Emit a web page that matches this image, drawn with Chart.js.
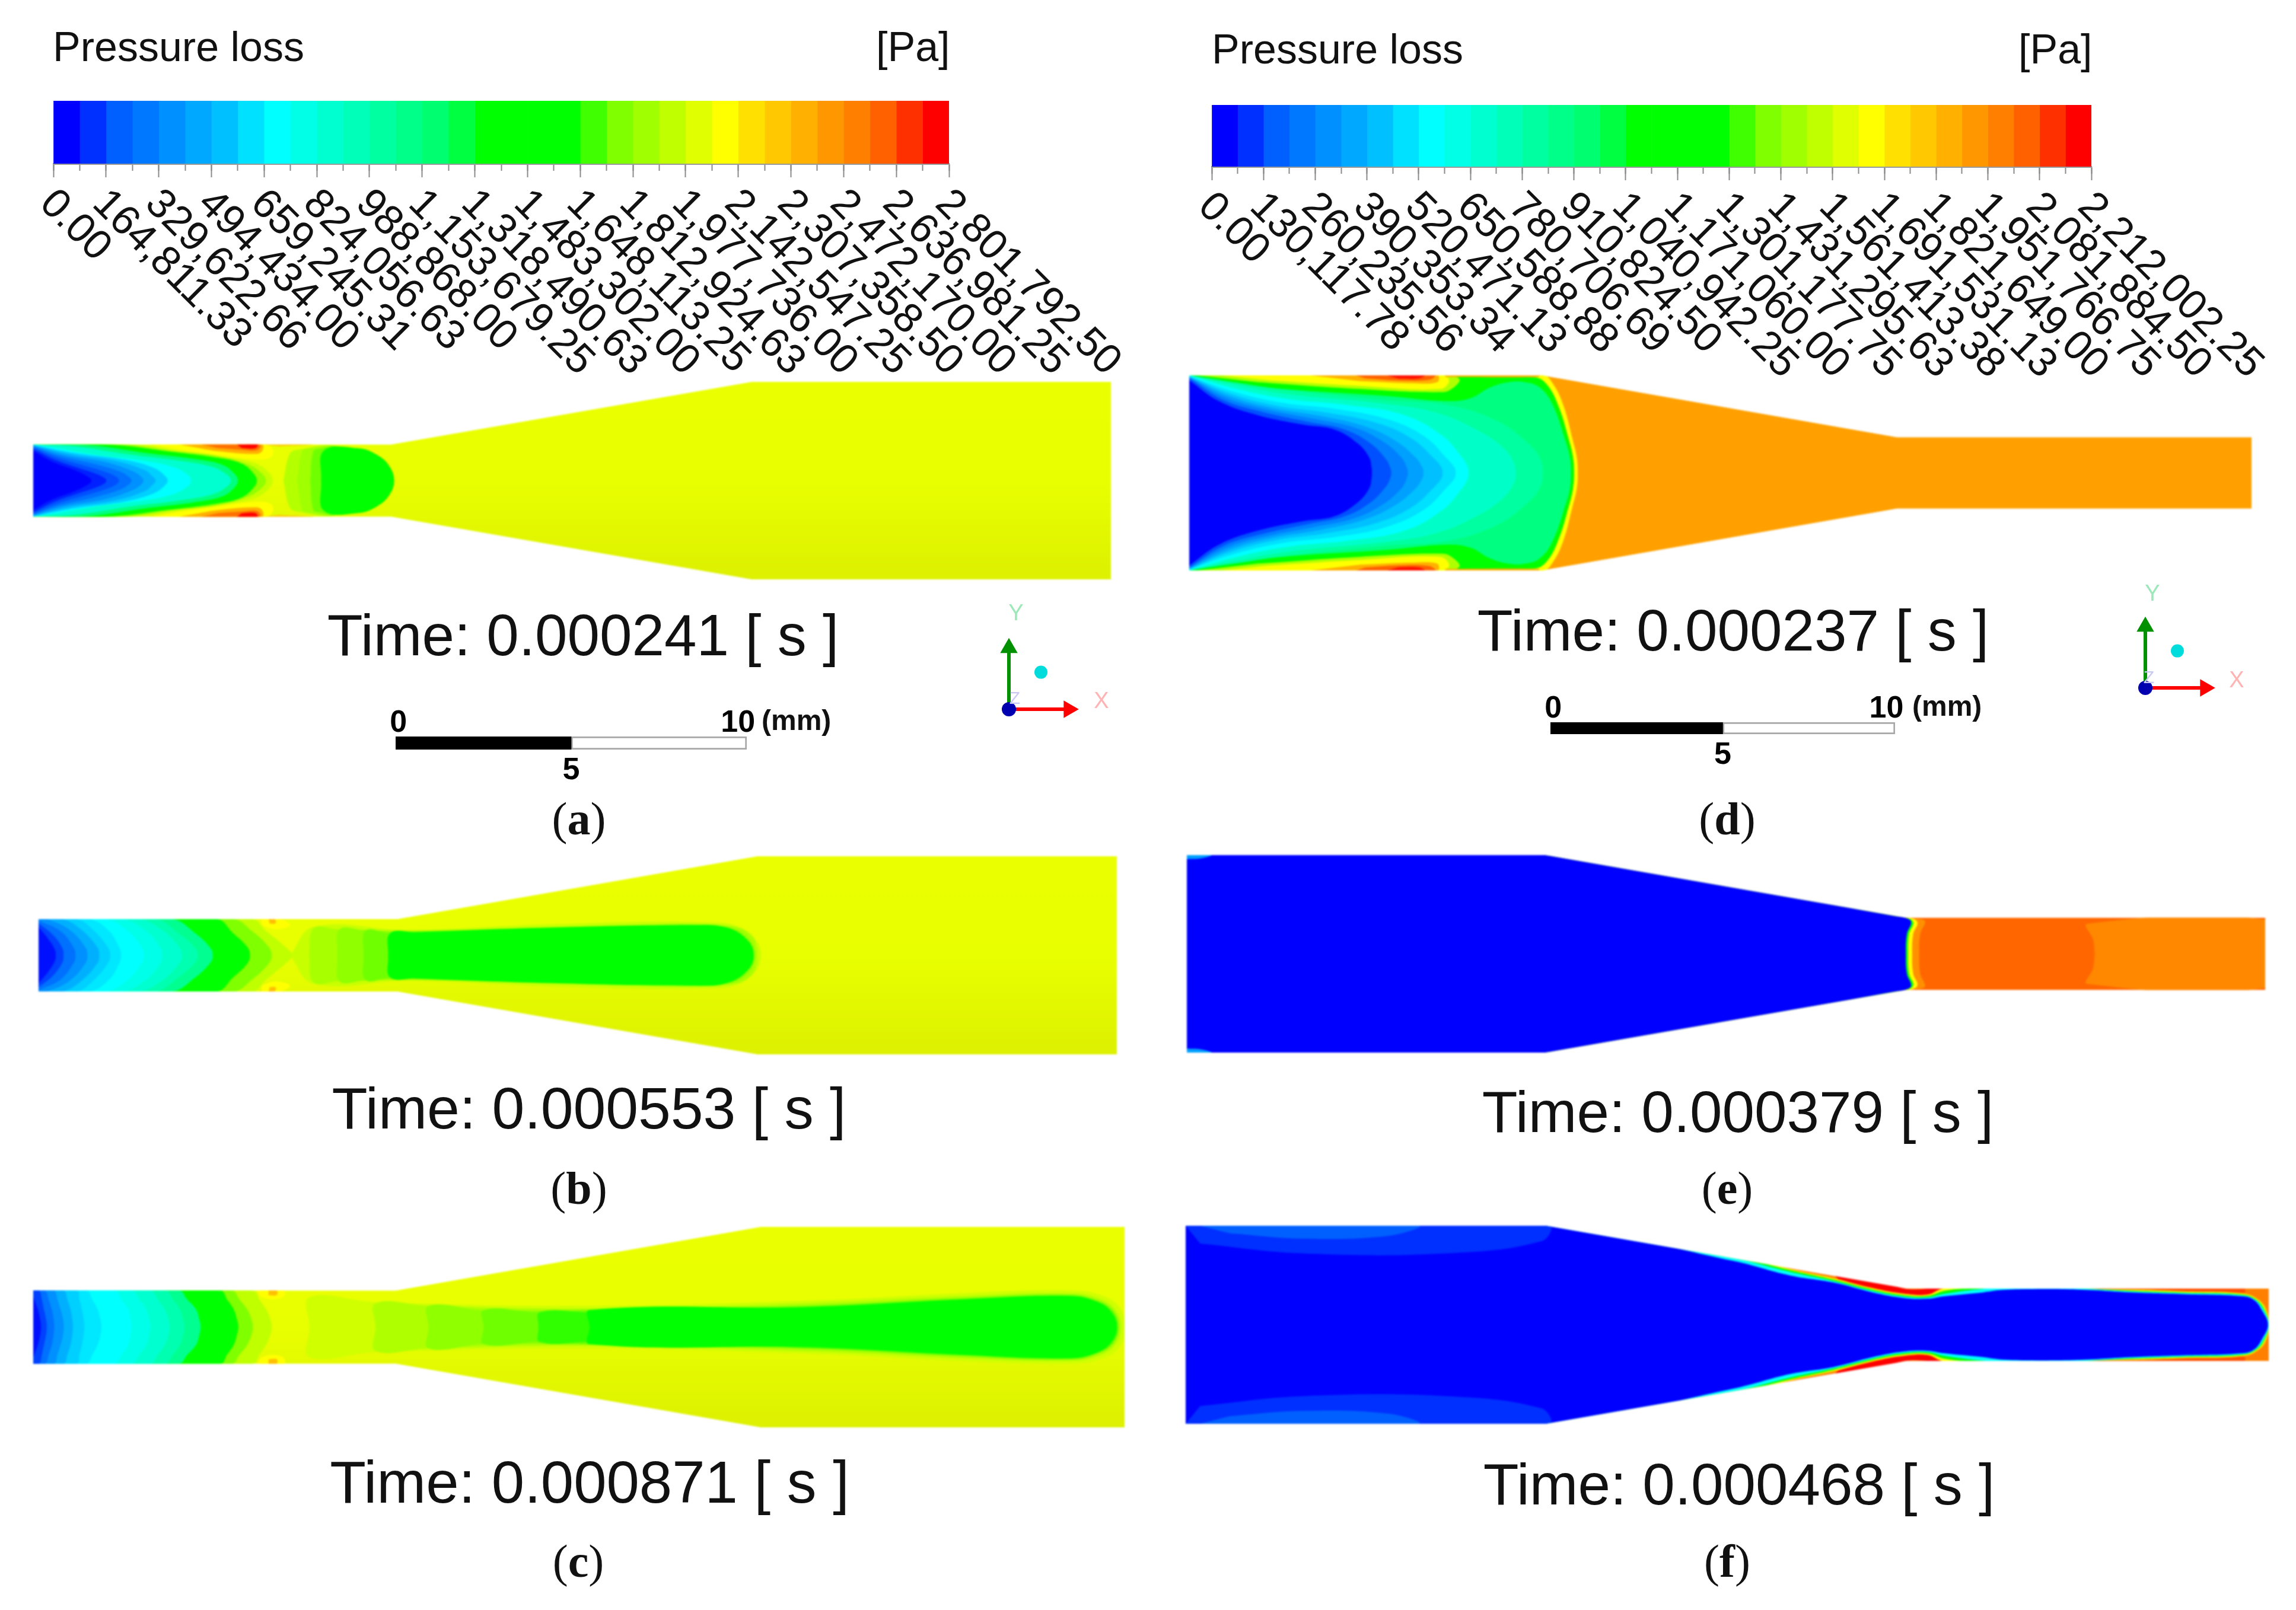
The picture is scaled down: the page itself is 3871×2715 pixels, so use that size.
<!DOCTYPE html>
<html>
<head>
<meta charset="utf-8">
<title>Pressure loss</title>
<script src="https://cdn.jsdelivr.net/npm/chart.js@4/dist/chart.umd.min.js"></script>
<style>
  html, body { margin: 0; background: #fff; }
  #page { position: relative; width: 3871px; height: 2715px; overflow: hidden; background: #fff; }
  #page canvas { position: absolute; }
  #page canvas.panel { filter: blur(1.8px); }
  .txt { position: absolute; line-height: 0; white-space: nowrap; color: #111; font-family: "Liberation Sans", Arial, sans-serif; }
</style>
</head>
<body>
<div id="page"></div>
<script>
// colour legend
const bandColors = ['#0000ff','#0030ff','#0060ff','#0078ff','#0090ff','#00a8ff','#00c0ff','#00e0ff','#00ffff','#00ffe6','#00ffd0','#00ffb8','#00ffa0','#00ff88','#00ff70','#00ff40','#00ff00','#00ff00','#00ff00','#00ff00','#40ff00','#80ff00','#a0ff00','#c0ff00','#e0ff00','#ffff00','#ffe000','#ffc800','#ffb000','#ff9800','#ff8000','#ff6000','#ff3000','#ff0000'];

const legendEdgesLeft = [0, 82405.67, 164811.33, 247217, 329622.66, 412028.33, 494434, 576839.66, 659245.31, 741651, 824056.63, 906462.3, 988868, 1071273.63, 1153679.25, 1236084.94, 1318490.63, 1400896.31, 1483302, 1565707.63, 1648113.25, 1730518.94, 1812924.63, 1895330.31, 1977736, 2060141.63, 2142547.25, 2224952.88, 2307358.5, 2389764.25, 2472170, 2554575.63, 2636981.25, 2719386.88, 2801792.5];
const legendEdgesRight = [0, 65058.89, 130117.78, 195176.67, 260235.56, 325294.45, 390353.34, 455412.23, 520471.13, 585530, 650588.88, 715647.78, 780706.69, 845765.59, 910824.5, 975883.38, 1040942.25, 1106001.13, 1171060, 1236118.88, 1301177.75, 1366236.69, 1431295.63, 1496354.5, 1561413.38, 1626472.25, 1691531.13, 1756590.06, 1821649, 1886707.88, 1951766.75, 2016825.63, 2081884.5, 2146943.38, 2212002.25];
const tickLabelsLeft = ['0.00','164,811.33','329,622.66','494,434.00','659,245.31','824,056.63','988,868.00','1,153,679.25','1,318,490.63','1,483,302.00','1,648,113.25','1,812,924.63','1,977,736.00','2,142,547.25','2,307,358.50','2,472,170.00','2,636,981.25','2,801,792.50'];
const tickLabelsRight = ['0.00','130,117.78','260,235.56','390,353.34','520,471.13','650,588.88','780,706.69','910,824.50','1,040,942.25','1,171,060.00','1,301,177.75','1,431,295.63','1,561,413.38','1,691,531.13','1,821,649.00','1,951,766.75','2,081,884.50','2,212,002.25'];

const timeLabels = ['Time: 0.000241 [ s ]','Time: 0.000553 [ s ]','Time: 0.000871 [ s ]','Time: 0.000237 [ s ]','Time: 0.000379 [ s ]','Time: 0.000468 [ s ]'];
const captions = ['a','b','c','d','e','f'];
const scaleTickValues = [0.08, 9.75];
const scaleTickLabels = ['0', '10'];
const scaleMidValue = [5];

// nozzle outlines, mm from the left end and from the axis
const outlineNarrowFirst = [[0,1.03],[10.2,1.03],[20.45,2.815],[30.7,2.815],[30.7,-2.815],[20.45,-2.815],[10.2,-1.03],[0,-1.03]];
const outlineWideFirst = [[0,2.815],[10.2,2.815],[20.45,1.03],[30.7,1.03],[30.7,-1.03],[20.45,-1.03],[10.2,-2.815],[0,-2.815]];

// (a) contours, upper half in mm
const aC8 = [[0,1.03],[2.83,1.03],[4.21,.84],[5.25,.7],[6.28,.51],[6.7,.25],[6.82,0]];
const a90 = [[0,1.03],[2.49,1.03],[4.01,.84],[5.25,.7],[6.14,.45],[6.52,.2],[6.63,0]];
const aGreen = [[0,1.03],[2.08,1.03],[3.87,.83],[5.25,.65],[5.94,.48],[6.28,.2],[6.37,0]];
const aSpring = [[0,1.03],[1.66,1],[3.18,.79],[4.56,.62],[5.39,.45],[5.73,.2],[5.83,0]];
const aTeal = [[0,1.03],[1.11,.98],[2.83,.73],[4.21,.56],[5.11,.39],[5.52,.17],[5.63,0]];
const aCyan = [[0,1.03],[.63,.93],[1.8,.73],[3.18,.56],[4.01,.38],[4.42,.15],[4.49,0]];
const aSky1 = [[0,1.02],[1.18,.79],[2.63,.59],[3.46,.35],[3.77,.12],[3.83,0]];
const aSky2 = [[0,1.01],[1.04,.76],[2.35,.56],[3.18,.3],[3.39,.13],[3.49,0]];
const aSky3 = [[0,.99],[.9,.73],[2.08,.52],[2.83,.27],[3.08,.11],[3.14,0]];
const aBlue1 = [[0,.97],[.77,.7],[1.8,.46],[2.49,.25],[2.73,.1],[2.8,0]];
const aBlue2 = [[0,.94],[.7,.65],[1.52,.41],[2.14,.22],[2.39,.09],[2.44,0]];
const aBlue3 = [[0,.9],[.63,.59],[1.32,.35],[1.8,.19],[2.04,.07],[2.08,0]];
const aBlue4 = [[0,.84],[.56,.53],[1.11,.33],[1.46,.17],[1.63,.06],[1.66,0]];
const aWallY = [[3.32,1.03],[6.63,1.03],[6.83,.87],[6.77,.67],[6.42,.6],[5.25,.73],[4.21,.88]];
const aWallO = [[4.14,1.03],[6.52,1.03],[6.52,.84],[6.35,.76],[5.25,.84],[4.56,.96]];
const aWallR1 = [[4.77,1.03],[6.46,1.03],[6.39,.87],[5.94,.88],[5.25,.93]];
const aWallR2 = [[5.8,1.03],[6.39,1.03],[6.32,.92],[5.94,.93]];
const aWallStrip = [[6.5,1.03],[8,1.03],[7,.98]];
const aHead1 = [[7.13,0],[7.28,.7],[7.46,.87],[8.7,.92],[8.7,0]];
const aHead2 = [[7.52,0],[7.66,.82],[7.8,.9],[8.7,.92],[8.7,0]];
const aHead3 = [[7.89,0],[7.97,.82],[8.11,.9],[8.7,.92],[8.7,0]];
const aHead4 = [[8.2,0],[8.28,.86],[9.28,.92],[9.8,.73],[10.14,.42],[10.28,0]];

// (b) contours
const bC0 = [[0,1.03],[6.08,1.03],[6.48,.69],[7.02,.24],[7.22,0]];
const b80 = [[0,1.03],[5.54,1.03],[6.08,.69],[6.55,.24],[6.64,0]];
const bGreen = [[0,1.03],[5.07,1.03],[5.54,.63],[5.94,.24],[6.02,0]];
const bSpring = [[0,1.03],[3.79,1.03],[4.46,.63],[4.9,.2],[4.96,0]];
const bMint = [[0,1.03],[3.32,1.03],[3.99,.63],[4.47,.2],[4.53,0]];
const bTeal = [[0,1.03],[2.84,1.03],[3.52,.72],[4.0,.24],[4.08,0]];
const bAqua = [[0,1.03],[2.37,1.03],[3.05,.7],[3.46,.24],[3.52,0]];
const bCyan = [[0,1.03],[1.9,1.03],[2.51,.72],[2.94,.22],[3,0]];
const bSky0 = [[0,1.03],[1.45,1.03],[2,.7],[2.3,.22],[2.35,0]];
const bSky1 = [[0,1.03],[1.09,1.03],[1.56,.72],[1.98,.22],[2.04,0]];
const bSky2 = [[0,1.03],[.69,1.03],[1.23,.72],[1.68,.22],[1.73,0]];
const bSky3 = [[0,1.03],[.28,1.01],[.89,.72],[1.34,.22],[1.39,0]];
const bBlue1 = [[0,.99],[.62,.69],[1,.22],[1.05,0]];
const bBlue2 = [[0,.91],[.42,.57],[.68,.2],[.71,0]];
const bBlue3 = [[0,.8],[.28,.46],[.47,.15],[.49,0]];
const bJet1 = [[7.16,0],[7.83,.81],[10.53,.72],[14.57,.88],[18.88,.94],[20.09,.74],[20.57,0]];
const bJet2 = [[7.7,0],[7.83,.77],[8.5,.74],[10.53,.7],[17.26,.87],[19.42,.86],[20.23,.63],[20.46,0]];
const bJet3 = [[8.5,0],[8.57,.74],[9.25,.72],[10.53,.68],[17.26,.86],[19.29,.84],[20.09,.63],[20.4,0]];
const bJet4 = [[9.25,0],[9.31,.7],[9.99,.64],[17.26,.84],[19.29,.82],[20,.6],[20.38,0]];
const bJet5 = [[9.95,0],[10.01,.63],[10.73,.66],[14.57,.79],[18.61,.86],[19.56,.8],[20.16,.46],[20.36,0]];
const bWallY = [[6.35,1.03],[6.89,1.03],[7.16,.86],[6.75,.74],[6.35,.86]];
const bWallO = [[6.55,1.03],[6.72,1.03],[6.75,.91],[6.58,.9]];

// (c) contours
const cC0 = [[0,1.03],[6.18,1.03],[6.36,.78],[6.55,.5],[6.67,.22],[6.71,0]];
const c80 = [[0,1.03],[5.59,1.03],[5.8,.78],[6.02,.5],[6.14,.22],[6.18,0]];
const cGreen = [[0,1.03],[5.27,1.03],[5.45,.78],[5.64,.5],[5.73,.22],[5.77,0]];
const cSpring = [[0,1.03],[4.1,1.03],[4.33,.78],[4.58,.5],[4.67,.22],[4.71,0]];
const cMint = [[0,1.03],[3.73,1.03],[3.93,.78],[4.13,.5],[4.22,.22],[4.26,0]];
const cTeal = [[0,1.03],[3.3,1.03],[3.5,.78],[3.7,.5],[3.8,.22],[3.84,0]];
const cAqua = [[0,1.03],[2.77,1.03],[2.98,.78],[3.18,.5],[3.26,.22],[3.3,0]];
const cCyan = [[0,1.03],[2.29,1.03],[2.48,.78],[2.67,.5],[2.74,.22],[2.77,0]];
const cSky0 = [[0,1.03],[1.5,1.03],[1.66,.78],[1.81,.5],[1.89,.22],[1.92,0]];
const cSky1 = [[0,1.03],[1.23,1.03],[1.3,.78],[1.37,.5],[1.42,.22],[1.44,0]];
const cSky2 = [[0,1.03],[.86,1.03],[.96,.78],[1.05,.5],[1.1,.22],[1.12,0]];
const cSky3 = [[0,1.03],[.59,1.03],[.68,.78],[.77,.5],[.84,.22],[.86,0]];
const cBlue1 = [[0,1.03],[.33,1.03],[.43,.78],[.52,.5],[.57,.22],[.59,0]];
const cBlue2 = [[0,1.03],[.17,1.03],[.24,.78],[.3,.5],[.36,.22],[.38,0]];
const cBlue3 = [[0,.85],[.13,.5],[.2,.2],[.22,0]];
const cJet1 = [[7.77,0],[7.77,.84],[9.63,.7],[15.68,.6],[21.9,.75],[26.06,.95],[29.17,1.03],[30.1,.88],[30.6,.5],[30.7,0]];
const cJet2 = [[9.63,0],[9.63,.67],[11.1,.6],[15.68,.52],[21.9,.68],[26.06,.87],[29.17,.95],[30,.8],[30.45,.48],[30.6,0]];
const cJet3 = [[11.12,0],[11.12,.6],[12.67,.48],[15.68,.5],[21.9,.62],[26.06,.83],[29.17,.92],[29.95,.76],[30.4,.46],[30.55,0]];
const cJet4 = [[12.67,0],[12.67,.48],[14.21,.42],[15.68,.48],[21.9,.6],[26.06,.8],[29.17,.9],[29.92,.74],[30.36,.46],[30.52,0]];
const cJet5 = [[14.21,0],[14.25,.42],[15.68,.42],[21.9,.58],[26.06,.78],[29.17,.88],[29.9,.73],[30.33,.45],[30.5,0]];
const cJet6 = [[15.65,0],[15.65,.48],[21.9,.56],[26.06,.77],[29.17,.87],[29.9,.72],[30.3,.45],[30.48,0]];
const cWallY = [[6.3,1.03],[7.05,1.03],[7.05,.86],[6.7,.78],[6.4,.86]];
const cWallO = [[6.62,1.03],[6.85,1.03],[6.85,.9],[6.62,.9]];

// (d) contours
const dFrontY = [[0,2.82],[10.22,2.82],[10.52,2.56],[10.82,1.93],[11.08,.96],[11.2,.45],[11.23,0]];
const dFrontG = [[0,2.82],[9.96,2.76],[10.33,2.56],[10.67,1.93],[10.97,.96],[11.09,.45],[11.12,0]];
const dWall1 = [[.19,2.82],[7.4,2.82],[7.81,2.7],[7.62,2.45],[7.32,2.33],[4.94,2.42],[1.97,2.62]];
const dWall2 = [[.86,2.82],[7.32,2.82],[7.51,2.65],[7.25,2.42],[4.94,2.51],[2.34,2.67]];
const dWall3 = [[3.46,2.82],[7.17,2.82],[7.17,2.62],[6.43,2.59],[4.94,2.65]];
const dWall4 = [[4.8,2.82],[7.1,2.82],[6.95,2.69],[6.06,2.67],[5.09,2.73]];
const dWall5 = [[5.69,2.82],[6.8,2.82],[6.65,2.73],[6.06,2.72]];
const dWallStrip = [[7.4,2.82],[10.1,2.82],[10.1,2.77],[7.4,2.77]];
const dSpring = [[0,2.82],[.48,2.67],[2.71,2.42],[5.69,2.22],[7.47,2.07],[8.14,2.16],[8.66,2.45],[9.18,2.61],[9.7,2.62],[10.15,2.45],[10.52,1.93],[10.86,.96],[11,.45],[11.03,0]];
const dMint = [[0,2.82],[1.08,2.65],[2.86,2.39],[5.69,2.1],[7.47,1.96],[8.9,1.5],[9.8,.85],[10.15,.4],[10.22,0]];
const dTeal = [[0,2.81],[1.23,2.56],[2.86,2.27],[5.69,1.99],[7.17,1.73],[8.4,1.2],[9.1,.7],[9.38,.3],[9.44,0]];
const dCyan = [[0,2.81],[1.38,2.42],[2.86,2.13],[4.57,1.96],[6.21,1.67],[7.32,1.07],[7.88,.45],[8.04,.18],[8.07,0]];
const dSky1 = [[0,2.79],[1.3,2.34],[2.71,2.02],[4.2,1.85],[5.69,1.56],[6.8,1.05],[7.47,.39],[7.67,.15],[7.7,0]];
const dSky2 = [[0,2.78],[1.23,2.27],[2.57,1.93],[3.9,1.75],[5.39,1.45],[6.43,.99],[7.1,.39],[7.29,.15],[7.32,0]];
const dSky3 = [[0,2.77],[1.15,2.22],[2.42,1.87],[3.75,1.65],[5.02,1.36],[5.91,.96],[6.54,.45],[6.74,.15],[6.77,0]];
const dBlue1 = [[0,2.75],[1.08,2.16],[2.27,1.82],[3.61,1.56],[4.8,1.3],[5.61,.9],[6.13,.45],[6.29,.15],[6.32,0]];
const dBlue2 = [[0,2.73],[1,2.1],[2.12,1.76],[3.46,1.47],[4.5,1.25],[5.24,.85],[5.69,.39],[5.81,.15],[5.84,0]];
const dBlue3 = [[0,2.67],[.86,2.07],[1.97,1.67],[3.31,1.39],[4.2,1.25],[4.87,.85],[5.2,.45],[5.27,.15],[5.28,0]];

// (e) contours
const eRear = [[25.85,0],[25.8,.41],[25.64,.86],[30.7,.97],[30.7,0]];
const eHalo = [[0,2.815],[10.2,2.815],[20.5,1.03],[20.95,.98],[21.02,.9],[20.88,.57],[20.85,0]];
const eYellow = [[0,2.815],[10.2,2.815],[20.55,1.03],[20.8,.9],[20.68,.57],[20.65,0]];
const eGreen = [[0,2.815],[10.2,2.815],[20.45,1.03],[20.68,.9],[20.56,.57],[20.53,0]];
const eBlue = [[0,2.815],[10.2,2.815],[20.2,1.07],[20.45,1.03],[20.62,.91],[20.5,.57],[20.47,0]];
const eCorner = [[0,2.815],[.7,2.815],[.4,2.72],[0,2.7]];

// (f) contours
const fWallRed = [[18.2,1.6],[19.2,1.5],[20.37,1.03],[21.5,1.03],[21.5,.85],[20.37,.8],[19.5,1],[18.5,1.3]];
const fWallEnd = [[25.3,1.03],[30,1.03],[30,.9],[25.3,.98]];
const fYellow = [[0,2.815],[10.2,2.815],[15.5,2],[17.14,1.58],[18.37,1.32],[19.48,1.04],[20.37,.88],[21.04,.86],[21.49,1.03],[26.84,1],[28.29,.95],[29.96,.89],[30.42,.7],[30.64,.39],[30.7,0]];
const fGreen = [[0,2.815],[10.2,2.815],[15.5,1.95],[17.14,1.55],[18.37,1.28],[19.48,1],[20.37,.84],[21.04,.82],[21.49,.96],[22.2,1.03],[25.28,1.03],[26.84,.97],[28.29,.92],[29.96,.86],[30.37,.7],[30.6,.39],[30.7,0]];
const fCyan = [[0,2.815],[10.2,2.815],[15.5,1.9],[17.14,1.5],[18.37,1.24],[19.48,.96],[20.37,.8],[21.04,.78],[21.49,.88],[22.6,1.02],[23.05,1.03],[25.28,1.03],[26.84,.95],[28.29,.9],[29.96,.84],[30.33,.7],[30.57,.39],[30.7,0]];
const fBlue = [[0,2.815],[10.2,2.815],[15.5,1.82],[17.14,1.4],[18.37,1.2],[19.48,.92],[20.37,.76],[21.04,.74],[21.49,.81],[22.6,.92],[23.05,.98],[23.83,1.01],[25.28,1],[26.84,.92],[28.29,.87],[29.96,.81],[30.29,.7],[30.52,.39],[30.68,0]];
const fLobe1 = [[0,2.815],[10.3,2.815],[10.1,2.38],[7.42,2.03],[3.3,2.03],[.41,2.31]];
const fLobe2 = [[.41,2.815],[6.59,2.815],[5.77,2.53],[3.3,2.45],[1.24,2.6]];

const yellowBase = ['#eaff00', '#e8ff00', '#dcf000'];

// colour, shape and whether the shape sits on both walls instead of closing over the axis
const panels = [
  { box: [56, 644, 1817, 333], outline: outlineNarrowFirst, base: yellowBase, layers: [
    ['#b4ff00', aHead1], ['#a0ff00', aHead2], ['#70ff00', aHead3], ['#00ff00', aHead4],
    ['#c8ff00', aC8], ['#90ff00', a90], ['#00ff00', aGreen],
    ['#ffff00', aWallY, 1], ['#ffb000', aWallO, 1], ['#ff7000', aWallR1, 1], ['#ff0000', aWallR2, 1], ['#ffc000', aWallStrip, 1],
    ['#00ff80', aSpring], ['#00ffd0', aTeal], ['#00ffff', aCyan], ['#00d0ff', aSky1], ['#00b0ff', aSky2], ['#0090ff', aSky3],
    ['#0070ff', aBlue1], ['#0050ff', aBlue2], ['#0020ff', aBlue3], ['#0000ff', aBlue4]
  ] },
  { box: [65, 1444, 1818, 334], outline: outlineNarrowFirst, base: yellowBase, layers: [
    ['#c8ff00', bJet1], ['#a8ff00', bJet2], ['#90ff00', bJet3], ['#70ff00', bJet4], ['#00ff00', bJet5],
    ['#c0ff00', bC0], ['#ffff00', bWallY, 1], ['#ffc000', bWallO, 1],
    ['#80ff00', b80], ['#00ff00', bGreen], ['#00ff90', bSpring], ['#00ffb0', bMint], ['#00ffd0', bTeal], ['#00ffe8', bAqua], ['#00ffff', bCyan],
    ['#00e8ff', bSky0], ['#00d0ff', bSky1], ['#00b0ff', bSky2], ['#0090ff', bSky3], ['#0070ff', bBlue1], ['#0040ff', bBlue2], ['#0010ff', bBlue3]
  ] },
  { box: [56, 2069, 1840, 338], outline: outlineNarrowFirst, base: yellowBase, layers: [
    ['#d0ff00', cJet1], ['#b0ff00', cJet2], ['#90ff00', cJet3], ['#70ff00', cJet4], ['#30ff00', cJet5], ['#00ff00', cJet6],
    ['#c0ff00', cC0], ['#ffff00', cWallY, 1], ['#ffc000', cWallO, 1],
    ['#80ff00', c80], ['#00ff00', cGreen], ['#00ff90', cSpring], ['#00ffb0', cMint], ['#00ffd0', cTeal], ['#00ffe8', cAqua], ['#00ffff', cCyan],
    ['#00e8ff', cSky0], ['#00d0ff', cSky1], ['#00b0ff', cSky2], ['#0090ff', cSky3], ['#0070ff', cBlue1], ['#0040ff', cBlue2], ['#0010ff', cBlue3]
  ] },
  { box: [2005, 633, 1791, 329], outline: outlineWideFirst, base: ['#ffa000'], layers: [
    ['#ffff00', dFrontY], ['#00ff00', dFrontG],
    ['#b0ff00', dWall1, 1], ['#ffff00', dWall2, 1], ['#ffb000', dWall3, 1], ['#ff6000', dWall4, 1], ['#ff1000', dWall5, 1], ['#ffb000', dWallStrip, 1],
    ['#00ff80', dSpring], ['#00ffa0', dMint], ['#00ffc8', dTeal], ['#00ffff', dCyan], ['#00e0ff', dSky1], ['#00c0ff', dSky2], ['#00a0ff', dSky3],
    ['#0080ff', dBlue1], ['#0050ff', dBlue2], ['#0000ff', dBlue3]
  ] },
  { box: [2001, 1442, 1818, 333], outline: outlineWideFirst, base: ['#ff6600'], layers: [
    ['#ff8800', eRear], ['#ff9000', eHalo], ['#ffff00', eYellow], ['#00ff00', eGreen], ['#0000ff', eBlue], ['#00a0ff', eCorner, 1]
  ] },
  { box: [1999, 2067, 1826, 334], outline: outlineWideFirst, base: ['#ff8000'], layers: [
    ['#ff0000', fWallRed, 1], ['#ff5000', fWallEnd, 1], ['#ffff00', fYellow], ['#00ff00', fGreen], ['#00ffff', fCyan], ['#0000ff', fBlue],
    ['#0030ff', fLobe1, 1], ['#0060ff', fLobe2, 1]
  ] }
];

const page = document.getElementById('page');
Chart.defaults.font.family = '"Liberation Sans", Arial, sans-serif';
Chart.defaults.animation = false;
Chart.defaults.devicePixelRatio = 1;
Chart.defaults.responsive = false;
Chart.defaults.plugins.legend.display = false;
Chart.defaults.plugins.tooltip.enabled = false;

function addCanvas(left, top, width, height, cls) {
    const c = document.createElement('canvas');
    c.width = width;
    c.height = height;
    c.style.left = left + 'px';
    c.style.top = top + 'px';
    c.style.width = width + 'px';
    c.style.height = height + 'px';
    if (cls) c.className = cls;
    page.appendChild(c);
    return c;
}

function addText(html, x, baseline, size, opts = {}) {
    const d = document.createElement('div');
    d.className = 'txt';
    d.innerHTML = html;
    d.style.left = x + 'px';
    d.style.top = (baseline - 0.345 * size) + 'px';
    d.style.fontSize = size + 'px';
    if (opts.center) d.style.transform = 'translateX(-50%)';
    if (opts.color) d.style.color = opts.color;
    if (opts.family) d.style.fontFamily = opts.family;
    if (opts.weight) d.style.fontWeight = opts.weight;
    page.appendChild(d);
}

const mirror = pts => pts.map(([x, y]) => [x, -y]);
const cap = pts => [...pts, ...mirror(pts.slice(0, -1)).reverse()];
const toXY = pts => pts.map(([x, y]) => ({ x, y }));

// keeps every contour inside the nozzle wall
const nozzleClip = {
    id: 'nozzleClip',
    beforeDatasetsDraw(chart, args, opts) {
        const { ctx, scales: { x, y } } = chart;
        ctx.save();
        ctx.beginPath();
        opts.outline.forEach(([a, b], i) => {
            const px = x.getPixelForValue(a), py = y.getPixelForValue(b);
            if (i) ctx.lineTo(px, py); else ctx.moveTo(px, py);
        });
        ctx.closePath();
        ctx.clip();
    },
    afterDatasetsDraw(chart) {
        chart.ctx.restore();
    }
};

function baseFill(stops) {
    if (stops.length === 1) return stops[0];
    return (context) => {
        const { ctx, chartArea } = context.chart;
        if (!chartArea) return stops[0];
        const g = ctx.createLinearGradient(0, chartArea.top, 0, chartArea.bottom);
        stops.forEach((s, i) => g.addColorStop(i / (stops.length - 1), s));
        return g;
    };
}

function drawPanel(p) {
    const shapes = [{ color: baseFill(p.base), pts: p.outline, tension: 0 }];
    p.layers.forEach(([color, pts, onWalls]) => {
        if (onWalls) {
            shapes.push({ color, pts, tension: 0.4 }, { color, pts: mirror(pts), tension: 0.4 });
        } else {
            shapes.push({ color, pts: cap(pts), tension: 0.4 });
        }
    });
    // Chart.js paints the first dataset last
    const datasets = shapes.reverse().map(s => ({
        data: toXY(s.pts),
        showLine: true,
        fill: 'shape',
        backgroundColor: s.color,
        borderWidth: 0,
        pointRadius: 0,
        tension: s.tension
    }));
    new Chart(addCanvas(p.box[0], p.box[1], p.box[2], p.box[3], 'panel'), {
        type: 'scatter',
        data: { datasets },
        plugins: [nozzleClip],
        options: {
            layout: { padding: 0, autoPadding: false },
            plugins: { nozzleClip: { outline: p.outline } },
            scales: {
                x: { display: false, min: 0, max: 30.7 },
                y: { display: false, min: -2.815, max: 2.815 }
            }
        }
    });
}

function drawLegend(edges, labels, left, top, barWidth, barHeight) {
    const major = edges.filter((_, i) => i % 2 === 0);
    const side = 60;
    const canvasW = barWidth + side + 320, canvasH = barHeight + 380;
    new Chart(addCanvas(left - side, top, canvasW, canvasH), {
        type: 'bar',
        data: {
            labels: ['Pressure loss'],
            datasets: bandColors.map((c, i) => ({
                data: [[edges[i], edges[i + 1]]],
                backgroundColor: c,
                barPercentage: 1,
                categoryPercentage: 1,
                grouped: false
            }))
        },
        options: {
            indexAxis: 'y',
            layout: { padding: { left: side, right: 320 }, autoPadding: false },
            scales: {
                y: { display: false },
                x: {
                    type: 'linear',
                    position: 'bottom',
                    min: 0,
                    max: edges[edges.length - 1],
                    grid: { drawOnChartArea: false, tickLength: 23, tickColor: '#8a8a8a', tickWidth: 2 },
                    border: { color: '#9a9a9a', width: 3 },
                    afterDataLimits(s) { s._getXAxisLabelAlignment = () => 'left'; },
                    afterBuildTicks(s) { s.ticks = major.map(value => ({ value })); },
                    afterFit(s) { s.height = canvasH - barHeight; s.paddingLeft = 0; s.paddingRight = 0; },
                    ticks: {
                        autoSkip: false,
                        minRotation: -45,
                        maxRotation: -45,
                        padding: 4,
                        labelOffset: -12,
                        color: '#111',
                        font: { size: 70 },
                        callback: (v, i) => labels[i]
                    }
                },
                x2: {
                    type: 'linear',
                    position: { y: 0.5 },
                    min: 0,
                    max: edges[edges.length - 1],
                    grid: { drawOnChartArea: false, tickLength: 12, tickColor: '#8a8a8a', tickWidth: 2 },
                    border: { display: false },
                    afterBuildTicks(s) { s.ticks = edges.map(value => ({ value })); },
                    ticks: { display: false, autoSkip: false }
                }
            }
        }
    });
}

function drawScaleBar(barLeft, barTop, barWidth, barHeight) {
    const side = 100, axisH = 58;
    new Chart(addCanvas(barLeft - side, barTop - axisH, barWidth + 2 * side, barHeight + 2 * axisH), {
        type: 'bar',
        data: {
            labels: ['mm'],
            datasets: [
                { data: [[0, 5]], backgroundColor: '#000', borderColor: '#000', borderWidth: 0, barPercentage: 1, categoryPercentage: 1, grouped: false },
                { data: [[5, 10]], backgroundColor: '#fff', borderColor: '#a8a8a8', borderWidth: 3, borderSkipped: false, barPercentage: 1, categoryPercentage: 1, grouped: false }
            ]
        },
        options: {
            indexAxis: 'y',
            layout: { padding: { left: side, right: side }, autoPadding: false },
            scales: {
                y: { display: false },
                x: {
                    type: 'linear', position: 'top', min: 0, max: 10,
                    grid: { display: false }, border: { display: false },
                    afterBuildTicks(s) { s.ticks = scaleTickValues.map(value => ({ value })); },
                    afterFit(s) { s.height = axisH; },
                    ticks: { padding: -17, maxRotation: 0, color: '#000', font: { size: 52, weight: 'bold' }, callback: (v, i) => scaleTickLabels[i] }
                },
                x2: {
                    type: 'linear', position: 'bottom', min: 0, max: 10,
                    grid: { display: false }, border: { display: false },
                    afterBuildTicks(s) { s.ticks = scaleMidValue.map(value => ({ value })); },
                    afterFit(s) { s.height = axisH; },
                    ticks: { padding: -4, maxRotation: 0, color: '#000', font: { size: 52, weight: 'bold' } }
                }
            }
        }
    });
}

function drawTriad(originX, originY) {
    new Chart(addCanvas(originX - 36, originY - 204, 240, 240), {
        type: 'scatter',
        data: {
            datasets: [
                { data: [{ x: 0, y: 0 }], pointRadius: 12, pointBackgroundColor: '#0000b0', pointBorderWidth: 0 },
                { data: [{ x: 0.45, y: 0.52 }], pointRadius: 11, pointBackgroundColor: '#00dcdc', pointBorderWidth: 0 },
                { data: [{ x: 0, y: 0 }, { x: 0, y: 0.86 }], showLine: true, borderColor: '#009000', borderWidth: 6, pointStyle: 'triangle', pointRadius: [0, 17], pointBackgroundColor: '#009000', pointBorderWidth: 0 },
                { data: [{ x: 0, y: 0 }, { x: 0.84, y: 0 }], showLine: true, borderColor: '#ff0000', borderWidth: 6, pointStyle: 'triangle', pointRadius: [0, 17], pointRotation: [0, 90], pointBackgroundColor: '#ff0000', pointBorderWidth: 0 }
            ]
        },
        options: {
            layout: { padding: 0, autoPadding: false },
            scales: {
                x: { display: false, min: -0.3, max: 1.7 },
                y: { display: false, min: -0.3, max: 1.7 }
            }
        }
    });
}

panels.forEach(drawPanel);

drawLegend(legendEdgesLeft, tickLabelsLeft, 90, 170, 1510, 106);
drawLegend(legendEdgesRight, tickLabelsRight, 2043, 177, 1483, 104);

addText('Pressure loss', 89, 103, 70);
addText('[Pa]', 1477, 103, 70);
addText('Pressure loss', 2043, 107, 70);
addText('[Pa]', 3403, 107, 70);

const timeSpots = [[983, 1105], [993, 1903], [994, 2534], [2922, 1097], [2930, 1909], [2932, 2537]];
const timeSizes = [98, 98.5, 99.5, 98, 98, 98];
timeLabels.forEach((t, i) => addText(t, timeSpots[i][0], timeSpots[i][1], timeSizes[i], { center: true }));

const captionSpots = [[976, 1408], [976, 2031], [975, 2660], [2912, 1408], [2912, 2031], [2912, 2660]];
captions.forEach((c, i) => addText('(<b>' + c + '</b>)', captionSpots[i][0], captionSpots[i][1], 78, {
    center: true, family: '"Liberation Serif", "Times New Roman", serif'
}));

drawScaleBar(667, 1242, 592, 22);
drawScaleBar(2614, 1218, 581, 20);
addText('(mm)', 1284, 1232, 48, { weight: 'bold' });
addText('(mm)', 3224, 1208, 48, { weight: 'bold' });

drawTriad(1701, 1196);
drawTriad(3617, 1160);
addText('Y', 1713, 1046, 38, { center: true, color: '#9de8b8' });
addText('X', 1857, 1194, 38, { center: true, color: '#ffb3b3' });
addText('Z', 1711, 1187, 30, { center: true, color: '#c8c8f4' });
addText('Y', 3629, 1013, 38, { center: true, color: '#9de8b8' });
addText('X', 3771, 1159, 38, { center: true, color: '#ffb3b3' });
addText('Z', 3623, 1152, 30, { center: true, color: '#c8c8f4' });
</script>
</body>
</html>
